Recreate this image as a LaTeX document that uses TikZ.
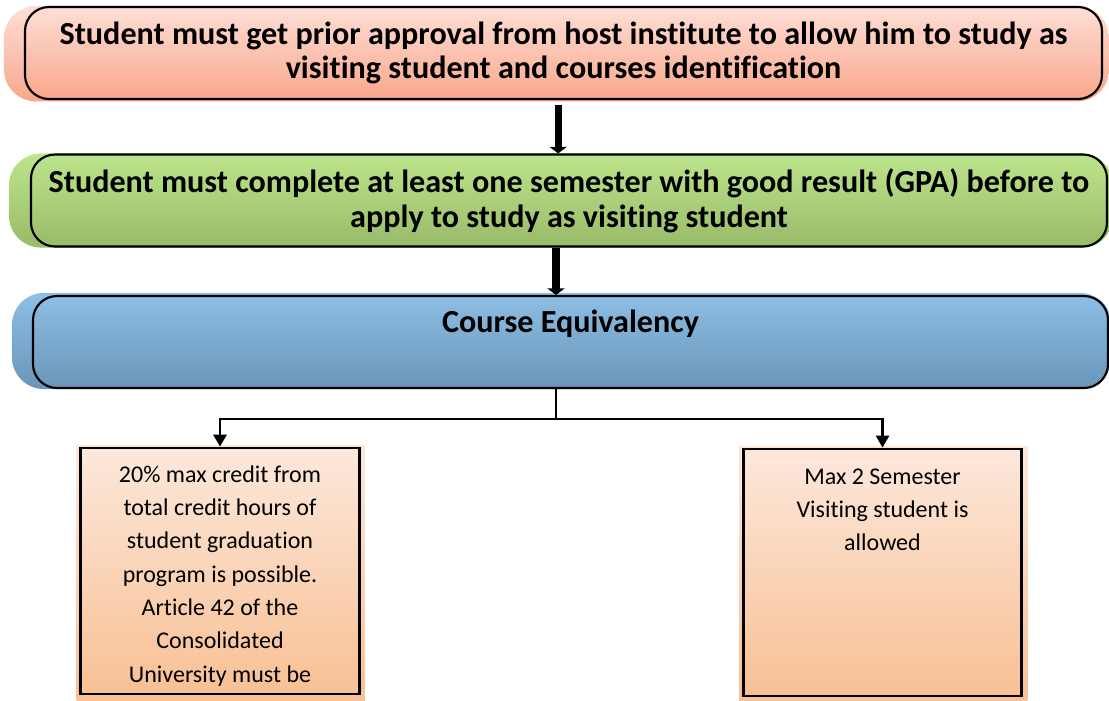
\documentclass[tikz,border=0pt]{standalone}
\usepackage{fontspec}
\setmainfont{Carlito}[Ligatures=NoCommon]
\usetikzlibrary{arrows.meta,backgrounds}
\definecolor{redtop}{RGB}{253,223,214}
\definecolor{redbot}{RGB}{249,166,138}
\definecolor{greentop}{RGB}{188,229,140}
\definecolor{greenbot}{RGB}{153,186,105}
\definecolor{bluetop}{RGB}{142,191,229}
\definecolor{bluebot}{RGB}{106,149,184}
\definecolor{notetop}{RGB}{252,232,219}
\definecolor{notebot}{RGB}{248,192,148}
\begin{document}
\begin{tikzpicture}[x=0.75pt,y=-0.75pt,
	headbox/.style={draw,line width=1.6pt,rounded corners=18pt,align=center,inner sep=0pt,
		minimum height=69pt,font=\fontsize{24.1}{26}\selectfont\bfseries},
	notebox/.style={draw,line width=2.2pt,inner sep=0pt,minimum width=209pt,
		top color=notetop,bottom color=notebot,font=\fontsize{18}{25}\selectfont},
	bigarrow/.style={line width=5.3pt,-{Triangle[width=13pt,length=5pt]}},
	branch/.style={line width=1.6pt,-{Triangle[width=10pt,length=9pt]}}]

	\useasboundingbox (0,0) rectangle (1109,700);

	% steps
	\node [headbox,minimum width=807.75pt] (approval) at (563.5,53)
		{Student must get prior approval from host institute to allow him to study as\\
		visiting student and courses identification};
	\node [headbox,minimum width=807pt] (semester) at (569,200.5)
		{Student must complete at least one semester with good result (GPA) before to\\
		apply to study as visiting student};
	\node [headbox,minimum width=806.25pt,text height=27pt,text depth=42pt] (equiv) at (570.5,342)
		{Course Equivalency};

	% notes
	\node [notebox,text height=25.5pt,text depth=159pt] (credit) at (220,571)
		{\parbox[t]{205pt}{\centering 20\% max credit from\\ total credit hours of\\
		student graduation\\ program is possible.\\ Article 42 of the\\ Consolidated\\
		University must be}};
	\node [notebox,text height=26.25pt,text depth=159pt] (limit) at (882.5,572.5)
		{\parbox[t]{205pt}{\centering Max 2 Semester\\ Visiting student is\\ allowed}};

	% backdrops
	\begin{scope}[on background layer]
		\shade [top color=redtop,bottom color=redbot,rounded corners=24pt]
			([xshift=-15pt]approval.north west) rectangle ([shift={(4.5pt,-1pt)}]approval.south east);
		\shade [top color=greentop,bottom color=greenbot,rounded corners=24pt]
			([xshift=-15.75pt]semester.north west) rectangle ([xshift=4pt]semester.south east);
		\shade [top color=bluetop,bottom color=bluebot,rounded corners=24pt]
			([shift={(-15pt,1.5pt)}]equiv.north west) rectangle ([xshift=2pt]equiv.south east);
		\foreach \n in {credit,limit}
			\shade [top color=notetop,bottom color=notebot]
				([shift={(-2pt,1pt)}]\n.north west) rectangle ([shift={(3pt,-4pt)}]\n.south east);
	\end{scope}

	% arrows
	\draw [bigarrow] ([shift={(-4pt,-4pt)}]approval.south) -- ([xshift=-4pt]approval.south |- semester.north);
	\draw [bigarrow] ([xshift=-9.75pt]semester.south) -- ([xshift=-9.75pt]semester.south |- equiv.north);
	\draw [branch] ([xshift=-10.9pt]equiv.south) -- ++(0,30) -| (credit.north);
	\draw [branch] ([xshift=-10.9pt]equiv.south) -- ++(0,30) -| (limit.north);

\end{tikzpicture}
\end{document}
